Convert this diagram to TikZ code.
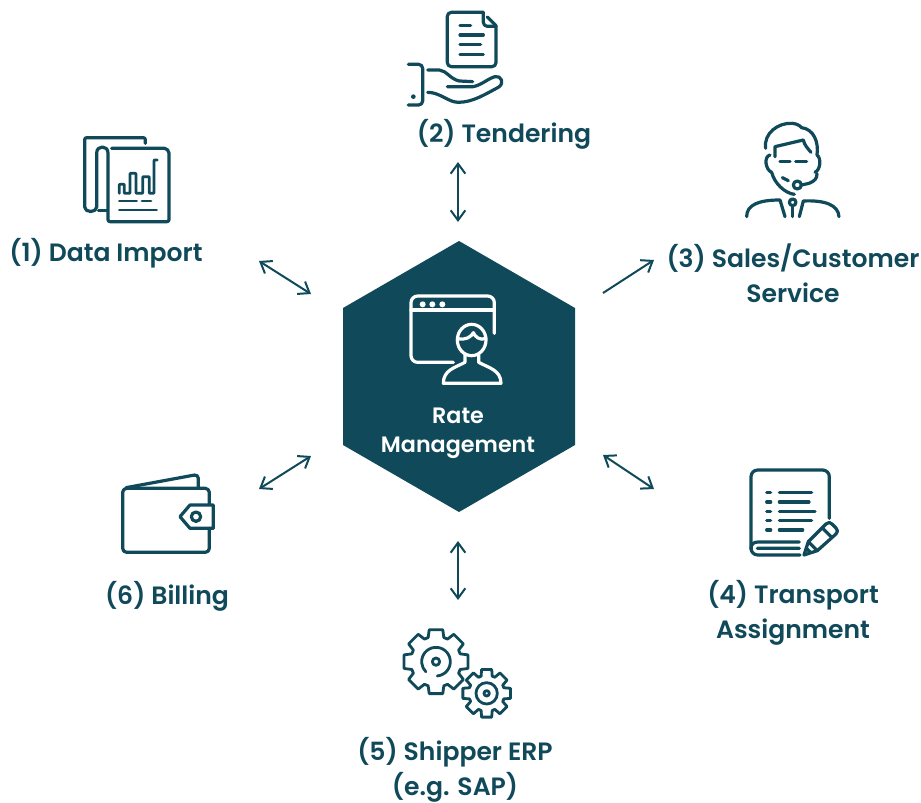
\documentclass[tikz,border=0pt]{standalone}
\usepackage{fontspec}
\usetikzlibrary{arrows.meta}
\setmainfont{Poppins SemiBold}
\definecolor{teal}{HTML}{104A5A}
\tikzset{
  x=0.75pt,y=-0.75pt,
  icon/.style={draw=teal,line width=2.4pt,line cap=round,line join=round,fill=none},
  thinicon/.style={icon,line width=2.1pt},
  whiteicon/.style={draw=white,line width=2.4pt,line cap=round,line join=round,fill=none},
  label/.style={text=teal,font=\fontsize{18.8}{26.2}\selectfont,align=center,inner sep=0pt},
  center label/.style={text=white,font=\fontsize{16.7}{22}\selectfont,align=center,inner sep=0pt},
  both/.style={draw=teal,line width=1.5pt,{Straight Barb[length=7.5pt,width=11pt]}-{Straight Barb[length=7.5pt,width=11pt]}},
  single/.style={draw=teal,line width=1.5pt,-{Straight Barb[length=7.5pt,width=11pt]}},
}
\begin{document}
\begin{tikzpicture}
\useasboundingbox (0,0) rectangle (921,803);
\fill[white] (0,0) rectangle (921,803);
% hexagon
\fill[teal] (459,241) -- (575,308) -- (575,445) -- (459,512) -- (343,445) -- (343,308) -- cycle;
% labels
\node[label] (l1) at (106,253.5) {(1) Data Import};
\node[label] (l2) at (504,134) {(2) Tendering};
\node[label] (l3) at (793,273) {(3) Sales/Customer\\Service};
\node[label] (l4) at (793,612.5) {(4) Transport\\Assignment};
\node[label] (l5) at (455,770) {(5) Shipper ERP\\(e.g. SAP)};
\node[label] (l6) at (167,596) {(6) Billing};
\node[center label] (hub) at (458,433) {Rate\\Management};
% connectors
\coordinate (a1) at (259,261); \coordinate (b1) at (311,294);
\coordinate (a2) at (458,162); \coordinate (b2) at (458,222);
\coordinate (a3) at (603,293); \coordinate (b3) at (654,260);
\coordinate (a4) at (603,455); \coordinate (b4) at (654,489);
\coordinate (a5) at (458,541); \coordinate (b5) at (458,600);
\coordinate (a6) at (259,489); \coordinate (b6) at (311,456);
\draw[both] (a1) -- (b1);
\draw[both] (a2) -- (b2);
\draw[single] (a3) -- (b3);
\draw[both] (a4) -- (b4);
\draw[both] (a5) -- (b5);
\draw[both] (a6) -- (b6);
% icon 1
\begin{scope}[shift={(70,125)},scale=0.3333]
\draw[icon,rounded corners=1.5pt] (226,55) -- (226,38) -- (44,38) -- (44,240) .. controls (44,264) and (80,264) .. (80,240) -- (80,90) .. controls (80,60) and (114,60) .. (114,90) -- (114,290) -- (297,290) -- (297,90) .. controls (297,78) and (290,70) .. (278,70) -- (125,70);
\draw[icon] (85,256) -- (112,256);
\draw[thinicon,rounded corners=0.5pt] (148,205) -- (148,178) -- (163,178) -- (163,205) -- (180,205) -- (180,145) -- (198,145) -- (198,205) -- (218,205) -- (218,155) -- (238,155) -- (238,205) -- (252,205) -- (252,105) -- (262,105);
\draw[thinicon] (148,228) -- (200,228) (216,228) -- (243,228) (148,255) -- (260,255);
\end{scope}
% icon 2
\begin{scope}[shift={(400,5)},scale=0.3333]
\draw[icon,rounded corners=3pt] (250,22) -- (142,22) -- (142,185) -- (288,185) -- (288,62);
\draw[icon] (262,36) -- (288,62);
\draw[icon,rounded corners=3pt] (250,22) -- (250,64) -- (288,64);
\draw[icon] (180,61) -- (212,61) (180,90) -- (250,90) (180,119) -- (242,119) (180,148) -- (250,148);
\draw[icon,rounded corners=3pt] (25,178) -- (68,178) -- (68,300) -- (25,300);
\fill[teal] (40,275) circle[radius=7];
\draw[icon] (83,195) -- (118,195) .. controls (140,197) and (150,222) .. (178,228) -- (218,230);
\draw[icon] (142,245) -- (220,245) .. controls (245,240) and (265,220) .. (285,215) .. controls (303,210) and (315,235) .. (295,247) .. controls (260,265) and (220,292) .. (175,292) .. controls (145,292) and (120,262) .. (83,262);
\end{scope}
% icon 3
\begin{scope}[shift={(735,115)},scale=0.3333]
\draw[icon] (92,100) .. controls (85,55) and (130,22) .. (172,25) .. controls (185,26) and (195,32) .. (200,38) .. controls (235,42) and (252,80) .. (246,120);
\draw[icon] (120,125) -- (120,95) -- (205,75) .. controls (208,90) and (218,100) .. (228,112);
\draw[icon] (105,120) .. controls (85,125) and (92,165) .. (110,172) .. controls (118,205) and (150,235) .. (178,238) (246,120) .. controls (260,130) and (256,165) .. (240,172);
\draw[icon] (200,210) -- (222,205) .. controls (240,198) and (246,190) .. (246,176);
\draw[icon] (187,210) circle[radius=12];
\draw[icon] (135,140) -- (165,140) (182,140) -- (215,140);
\draw[icon] (142,188) -- (160,197);
\draw[icon] (35,305) .. controls (35,270) and (70,255) .. (135,255) -- (150,305);
\draw[icon] (193,305) -- (205,258) .. controls (270,255) and (310,270) .. (312,305);
\draw[icon] (173,262) circle[radius=10];
\draw[icon] (173,272) -- (173,305);
\end{scope}
% icon 4
\begin{scope}[shift={(740,460)},scale=0.3333]
\draw[icon,rounded corners=5pt] (268,175) -- (268,30) -- (33,30) -- (33,285) -- (180,285);
\draw[icon] (33,268) .. controls (33,252) and (40,246) .. (55,246) -- (178,246) (52,265) -- (178,265);
\draw[icon] (80,98) -- (92,98) (118,98) -- (215,98);
\draw[icon] (80,126) -- (92,126) (118,126) -- (207,126);
\draw[icon] (80,154) -- (92,154) (118,154) -- (225,154);
\draw[icon] (80,182) -- (92,182) (118,182) -- (215,182);
\draw[icon] (80,210) -- (92,210) (118,210) -- (188,210);
\draw[icon] (192,285) -- (205,245) -- (258,192) .. controls (264,186) and (272,186) .. (276,192) -- (288,204) .. controls (294,210) and (294,216) .. (288,222) -- (232,272) -- cycle;
\draw[icon] (248,205) -- (275,232) (205,245) -- (232,272) (198,264) -- (212,278);
\end{scope}
% icon 5
\begin{scope}[shift={(395,620)},scale=0.3333]
\begin{scope}[shift={(123,125)}]
\foreach \a in {0,45,...,315}{
\draw[thinicon] (\a-22.5:76) -- (\a-18:76) -- (\a-12:98) -- (\a+12:98) -- (\a+18:76) -- (\a+22.5:76);}
\draw[thinicon] (85:43) arc[start angle=85,end angle=-225,radius=43];
\draw[thinicon] (0,0) circle[radius=11];
\end{scope}
\begin{scope}[shift={(275,220)}]
\foreach \a in {0,45,...,315}{
\draw[thinicon] (\a-22.5:54) -- (\a-18:54) -- (\a-12:73) -- (\a+12:73) -- (\a+18:54) -- (\a+22.5:54);}
\draw[thinicon] (0,0) circle[radius=32];
\draw[thinicon] (0,0) circle[radius=8];
\end{scope}
\end{scope}
% icon 6
\begin{scope}[shift={(110,465)},scale=0.3333]
\draw[icon,rounded corners=3pt] (298,118) -- (298,70) -- (38,70) -- (38,262) -- (298,262) -- (298,190);
\draw[icon,rounded corners=3pt] (48,68) -- (265,28) -- (265,68);
\draw[icon] (310,120) -- (240,120) -- (210,155) -- (240,190) -- (310,190) -- cycle;
\draw[icon] (258,155) circle[radius=14];
\end{scope}
% hub icon
\begin{scope}[shift={(400,285)},scale=0.3333]
\draw[whiteicon,rounded corners=5pt] (283,145) -- (283,33) -- (33,33) -- (33,232) -- (160,232);
\draw[whiteicon] (33,75) -- (283,75);
\foreach \p in {68,97,127}{\fill[white] (\p,58) circle[radius=9];}
\draw[whiteicon] (215,165) ellipse[x radius=43,y radius=47];
\draw[whiteicon] (172,160) .. controls (195,168) and (215,155) .. (220,143) .. controls (225,155) and (240,168) .. (258,160);
\draw[whiteicon] (195,210) -- (195,232) .. controls (165,248) and (130,255) .. (130,295) -- (303,295) .. controls (303,255) and (265,248) .. (236,232) -- (236,210);
\end{scope}
\end{tikzpicture}
\end{document}
